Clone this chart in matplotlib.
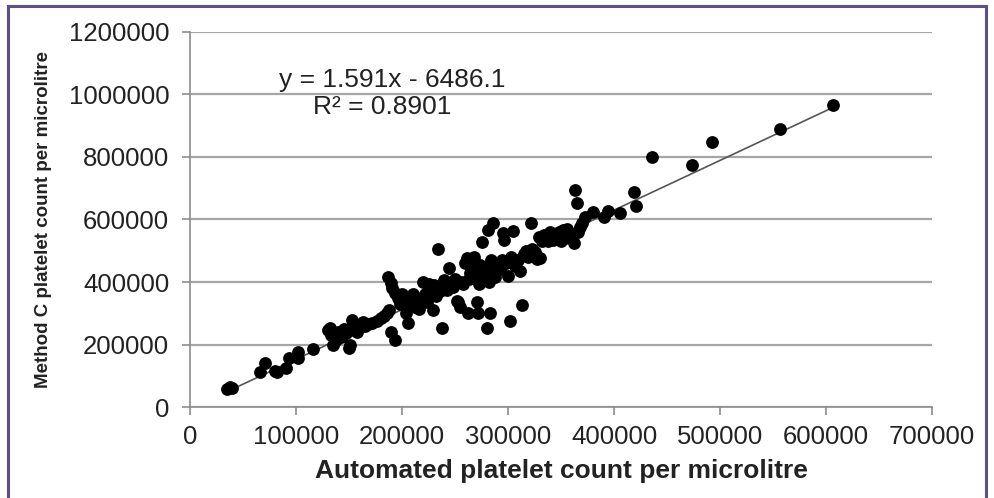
import matplotlib
matplotlib.use('Agg')
import matplotlib.pyplot as plt
from matplotlib.patches import Rectangle
import numpy as np

# readings, in thousands per microlitre
auto_k = [35, 38, 40, 66, 71, 80, 82, 91, 93, 102, 102, 116,
          130, 132, 133, 135, 138, 140, 142, 145, 147, 150, 151, 153, 155, 158, 160, 163, 165, 168,
          172, 176, 180, 183, 186, 188,
          187, 190, 191, 193, 190, 193, 196, 198, 200, 202, 204, 206, 208, 210, 212, 214, 216, 218,
          220, 222, 224, 226, 229, 230, 232, 234, 236, 238, 240, 242, 244, 246, 248, 250, 252, 253,
          255, 257, 259, 261, 262, 264, 266, 268, 270, 271, 272, 274, 275, 276, 278, 280, 281, 282,
          283, 284, 285, 286, 287, 288, 290, 292, 294, 295, 296, 298, 300, 302, 303, 305, 307, 309,
          311, 313, 315, 317, 319, 322, 323, 325, 327, 329, 330, 332, 334, 336, 338, 340, 342, 344,
          346, 348, 350, 352, 354, 356, 358, 360, 362, 363, 365, 366, 368, 370, 373, 380, 391, 394,
          406, 419, 421, 436, 474, 492, 557, 607,
          258, 263, 267, 273, 279, 225, 243]
methodc_k = [58, 65, 62, 112, 141, 115, 112, 125, 157, 176, 157, 186,
             246, 253, 230, 198, 215, 240, 225, 250, 236, 189, 200, 278, 245, 240, 262, 272, 258, 266,
             270, 275, 285, 292, 300, 310,
             416, 397, 380, 365, 240, 214, 350, 330, 360, 345, 300, 270, 330, 360, 320, 335, 315, 340,
             400, 360, 335, 375, 310, 390, 355, 506, 370, 253, 406, 375, 445, 395, 385, 410, 340, 336,
             320, 400, 461, 477, 301, 430, 420, 480, 410, 336, 301, 455, 528, 425, 440, 253, 566, 400,
             301, 470, 430, 589, 460, 415, 450, 440, 470, 557, 534, 460, 419, 275, 480, 563, 450, 470,
             435, 325, 490, 500, 480, 589, 505, 495, 475, 545, 477, 530, 550, 540, 530, 560, 535, 550,
             545, 560, 530, 565, 540, 570, 550, 545, 525, 694, 653, 560, 575, 590, 608, 624, 608, 627,
             621, 688, 643, 800, 774, 848, 890, 966,
             395, 410, 445, 395, 420, 395, 390]

slope = 1.591
intercept = -6486.1
r_squared = 0.8901

x = np.array(auto_k) * 1000
y = np.array(methodc_k) * 1000

plt.rcParams['font.family'] = ['Liberation Sans', 'DejaVu Sans']

fig = plt.figure(figsize=(9.94, 4.98), dpi=100)
ax = fig.add_axes([190/994, 91/498, 742/994, 375/498])

ax.scatter(x, y, s=85, color='black', zorder=3, linewidths=0)
xl = np.array([x.min(), x.max()])
ax.plot(xl, slope*xl + intercept, color='#555555', lw=1.2, zorder=2)

ax.set_xlim(0, 700000)
ax.set_ylim(0, 1200000)
ax.set_xticks(np.arange(0, 700001, 100000))
ax.set_yticks(np.arange(0, 1200001, 200000))
ax.set_xticklabels([str(v) for v in range(0, 700001, 100000)])
ax.set_yticklabels([str(v) for v in range(0, 1200001, 200000)])
ax.grid(axis='y', color='#a6a6a6', lw=1.6)
ax.set_axisbelow(True)
for s in ['top', 'right']:
    ax.spines[s].set_visible(False)
for s in ['left', 'bottom']:
    ax.spines[s].set_color('#8c8c8c')
    ax.spines[s].set_linewidth(1.2)
ax.tick_params(axis='both', colors='#8c8c8c', labelcolor='#222222', labelsize=18.5,
               length=6, width=1.2)
ax.tick_params(axis='y', pad=9)
ax.tick_params(axis='x', pad=7)

ax.set_xlabel('Automated platelet count per microlitre', fontsize=19, fontweight='bold',
              color='#222222', labelpad=7)
ax.set_ylabel('Method C platelet count per microlitre', fontsize=13.5, fontweight='bold',
              color='#222222', labelpad=12)

ax.text(0.272, 0.872, 'y = 1.591x - 6486.1', transform=ax.transAxes, fontsize=19,
        ha='center', va='center', color='#222222')
ax.text(0.259, 0.8, 'R² = %.4f' % r_squared, transform=ax.transAxes, fontsize=19,
        ha='center', va='center', color='#222222')

fig.patches.append(Rectangle((8/994, -0.02), 978/994, 1.0 - 6/498 + 0.02,
                             transform=fig.transFigure, fill=False,
                             edgecolor='#5e4d8c', lw=2.2))

fig.savefig('out.png', dpi=100)
